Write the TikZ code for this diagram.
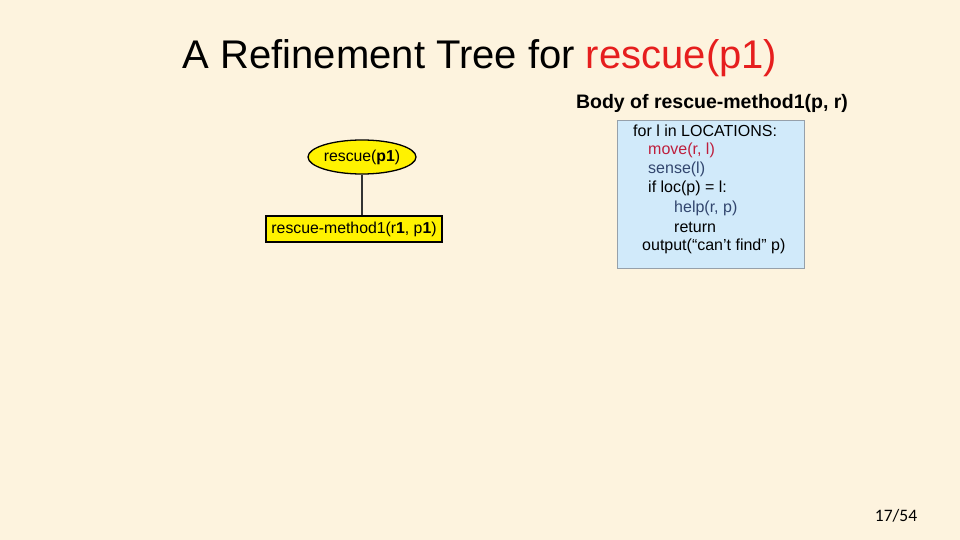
\documentclass[tikz,border=0pt]{standalone}
\usepackage{fontspec}
\setmainfont{Liberation Sans}
\newfontfamily\pgfont{Carlito}
\usetikzlibrary{shapes.geometric}
\definecolor{bg}{RGB}{253,243,222}
\definecolor{codebg}{RGB}{209,234,250}
\definecolor{codeline}{RGB}{150,160,170}
\definecolor{titlered}{RGB}{230,30,30}
\definecolor{movered}{RGB}{190,30,60}
\definecolor{codeblue}{RGB}{50,70,110}
\tikzset{
  tnode/.style={draw=black, fill=yellow, line width=1.3pt, font=\fontsize{15.8}{18}\selectfont, inner sep=0pt},
  codeln/.style={anchor=west, font=\fontsize{16}{18}\selectfont, inner sep=0pt}
}
\begin{document}
\begin{tikzpicture}[x=1pt,y=-1pt]
\fill[bg] (0,0) rectangle (960,540);
\useasboundingbox (0,0) rectangle (960,540);
\node (title) at (480,58) {\fontsize{40}{46}\selectfont A Refinement Tree for \textcolor{titlered}{rescue(p1)}};
\node (body) at (712,103) {\fontsize{19.5}{23}\selectfont\bfseries Body of rescue-method1(p, r)};
\node[tnode, ellipse, minimum width=94pt, minimum height=34pt] (task) at (362,157) {rescue(\textbf{p1})};
\node[tnode, rectangle, minimum width=176pt, minimum height=26pt] (method) at (354,229) {rescue-method1(r\textbf{1}, p\textbf{1})};
\draw[line width=1.5pt, black!80] (task.south) -- (method.north -| task.south);
\node[draw=codeline, fill=codebg, minimum width=187pt, minimum height=148pt, inner sep=0pt] (code) at (710.5,194) {};
\node[codeln] (l1) at (633,131) {for l in LOCATIONS:};
\node[codeln, text=movered] (l2) at (648,150) {move(r, l)};
\node[codeln, text=codeblue] (l3) at (648,169) {sense(l)};
\node[codeln] (l4) at (648,188) {if loc(p) = l:};
\node[codeln, text=codeblue] (l5) at (674,208) {help(r, p)};
\node[codeln] (l6) at (674,227) {return};
\node[codeln] (l7) at (642,246) {output(“can’t find” p)};
\node (pg) at (896,516) {\pgfont\fontsize{17.5}{20}\selectfont 17/54};
\end{tikzpicture}
\end{document}
